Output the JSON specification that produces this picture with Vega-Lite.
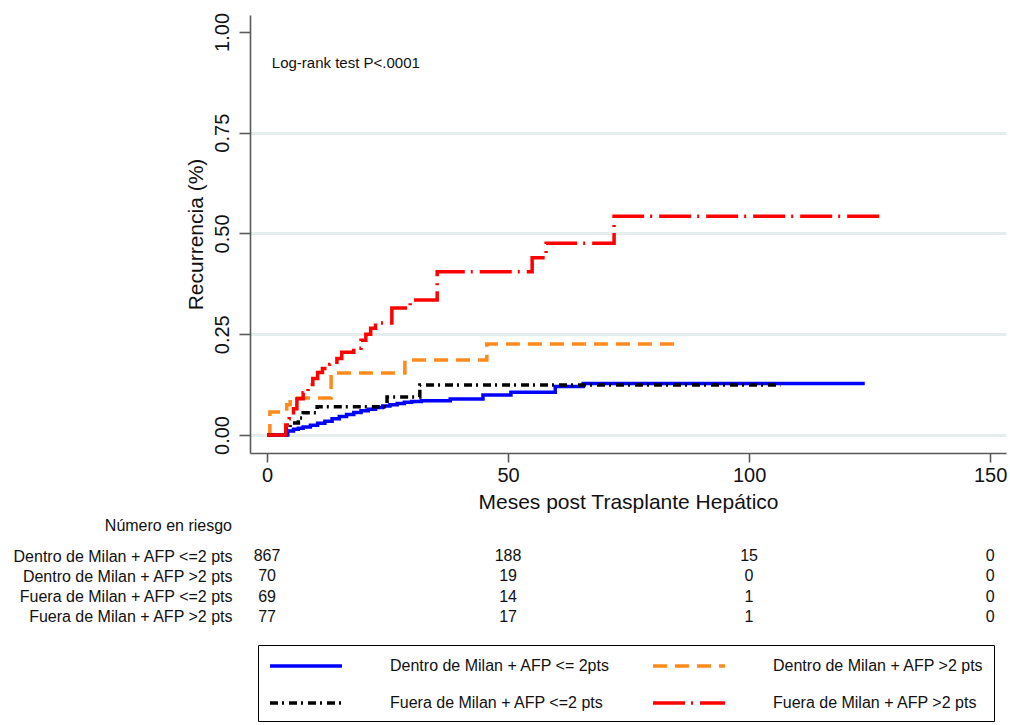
{
  "$schema": "https://vega.github.io/schema/vega-lite/v6.json",
  "autosize": {"type": "none"},
  "padding": {"left": 250, "top": 15, "right": 760, "bottom": 710},
  "background": "white",
  "bounds": "flush",
  "spacing": 93,
  "config": {
    "view": {"stroke": null},
    "font": "Liberation Sans",
    "axis": {"domainColor": "#5a5a5a", "tickColor": "#5a5a5a", "domainWidth": 1.6, "tickWidth": 1.6, "labelColor": "#111111", "titleColor": "#111111", "titleFontWeight": "normal", "labelFont": "Liberation Sans", "titleFont": "Liberation Sans"}
  },
  "vconcat": [
    {
      "width": 756,
      "height": 438,
      "layer": [
        {
          "data": {
            "values": [
              {"grupo": "Dentro de Milan + AFP <= 2pts", "mes": 0, "rec": 0},
              {"grupo": "Dentro de Milan + AFP <= 2pts", "mes": 4.3, "rec": 0.01},
              {"grupo": "Dentro de Milan + AFP <= 2pts", "mes": 5.5, "rec": 0.014},
              {"grupo": "Dentro de Milan + AFP <= 2pts", "mes": 6.5, "rec": 0.017},
              {"grupo": "Dentro de Milan + AFP <= 2pts", "mes": 7.5, "rec": 0.02},
              {"grupo": "Dentro de Milan + AFP <= 2pts", "mes": 9, "rec": 0.024},
              {"grupo": "Dentro de Milan + AFP <= 2pts", "mes": 10.5, "rec": 0.029},
              {"grupo": "Dentro de Milan + AFP <= 2pts", "mes": 12, "rec": 0.034},
              {"grupo": "Dentro de Milan + AFP <= 2pts", "mes": 13.5, "rec": 0.04},
              {"grupo": "Dentro de Milan + AFP <= 2pts", "mes": 15, "rec": 0.046},
              {"grupo": "Dentro de Milan + AFP <= 2pts", "mes": 16.5, "rec": 0.051},
              {"grupo": "Dentro de Milan + AFP <= 2pts", "mes": 18, "rec": 0.056},
              {"grupo": "Dentro de Milan + AFP <= 2pts", "mes": 19.5, "rec": 0.06},
              {"grupo": "Dentro de Milan + AFP <= 2pts", "mes": 21, "rec": 0.064},
              {"grupo": "Dentro de Milan + AFP <= 2pts", "mes": 22.5, "rec": 0.068},
              {"grupo": "Dentro de Milan + AFP <= 2pts", "mes": 24, "rec": 0.072},
              {"grupo": "Dentro de Milan + AFP <= 2pts", "mes": 25.5, "rec": 0.075},
              {"grupo": "Dentro de Milan + AFP <= 2pts", "mes": 27, "rec": 0.078},
              {"grupo": "Dentro de Milan + AFP <= 2pts", "mes": 28.5, "rec": 0.081},
              {"grupo": "Dentro de Milan + AFP <= 2pts", "mes": 30, "rec": 0.083},
              {"grupo": "Dentro de Milan + AFP <= 2pts", "mes": 32, "rec": 0.085},
              {"grupo": "Dentro de Milan + AFP <= 2pts", "mes": 38, "rec": 0.089},
              {"grupo": "Dentro de Milan + AFP <= 2pts", "mes": 44.8, "rec": 0.099},
              {"grupo": "Dentro de Milan + AFP <= 2pts", "mes": 50.6, "rec": 0.106},
              {"grupo": "Dentro de Milan + AFP <= 2pts", "mes": 59.8, "rec": 0.12},
              {"grupo": "Dentro de Milan + AFP <= 2pts", "mes": 65.6, "rec": 0.128},
              {"grupo": "Dentro de Milan + AFP <= 2pts", "mes": 124, "rec": 0.128},
              {"grupo": "Dentro de Milan + AFP >2 pts", "mes": 0, "rec": 0},
              {"grupo": "Dentro de Milan + AFP >2 pts", "mes": 0.6, "rec": 0.057},
              {"grupo": "Dentro de Milan + AFP >2 pts", "mes": 4.1, "rec": 0.075},
              {"grupo": "Dentro de Milan + AFP >2 pts", "mes": 4.8, "rec": 0.092},
              {"grupo": "Dentro de Milan + AFP >2 pts", "mes": 13.3, "rec": 0.154},
              {"grupo": "Dentro de Milan + AFP >2 pts", "mes": 28.6, "rec": 0.186},
              {"grupo": "Dentro de Milan + AFP >2 pts", "mes": 45.6, "rec": 0.226},
              {"grupo": "Dentro de Milan + AFP >2 pts", "mes": 85.7, "rec": 0.226},
              {"grupo": "Fuera de Milan + AFP <=2 pts", "mes": 0, "rec": 0},
              {"grupo": "Fuera de Milan + AFP <=2 pts", "mes": 4, "rec": 0.015},
              {"grupo": "Fuera de Milan + AFP <=2 pts", "mes": 4.8, "rec": 0.03},
              {"grupo": "Fuera de Milan + AFP <=2 pts", "mes": 6.5, "rec": 0.042},
              {"grupo": "Fuera de Milan + AFP <=2 pts", "mes": 7.5, "rec": 0.055},
              {"grupo": "Fuera de Milan + AFP <=2 pts", "mes": 10.4, "rec": 0.07},
              {"grupo": "Fuera de Milan + AFP <=2 pts", "mes": 24.9, "rec": 0.094},
              {"grupo": "Fuera de Milan + AFP <=2 pts", "mes": 31.7, "rec": 0.124},
              {"grupo": "Fuera de Milan + AFP <=2 pts", "mes": 106.5, "rec": 0.124},
              {"grupo": "Fuera de Milan + AFP >2 pts", "mes": 0, "rec": 0},
              {"grupo": "Fuera de Milan + AFP >2 pts", "mes": 3.9, "rec": 0.025},
              {"grupo": "Fuera de Milan + AFP >2 pts", "mes": 4.6, "rec": 0.04},
              {"grupo": "Fuera de Milan + AFP >2 pts", "mes": 5.5, "rec": 0.065},
              {"grupo": "Fuera de Milan + AFP >2 pts", "mes": 6.2, "rec": 0.09},
              {"grupo": "Fuera de Milan + AFP >2 pts", "mes": 7.5, "rec": 0.105},
              {"grupo": "Fuera de Milan + AFP >2 pts", "mes": 8.5, "rec": 0.125},
              {"grupo": "Fuera de Milan + AFP >2 pts", "mes": 9.5, "rec": 0.14},
              {"grupo": "Fuera de Milan + AFP >2 pts", "mes": 10.5, "rec": 0.155},
              {"grupo": "Fuera de Milan + AFP >2 pts", "mes": 11.5, "rec": 0.165},
              {"grupo": "Fuera de Milan + AFP >2 pts", "mes": 13, "rec": 0.175},
              {"grupo": "Fuera de Milan + AFP >2 pts", "mes": 14.5, "rec": 0.19},
              {"grupo": "Fuera de Milan + AFP >2 pts", "mes": 15.5, "rec": 0.205},
              {"grupo": "Fuera de Milan + AFP >2 pts", "mes": 18, "rec": 0.215},
              {"grupo": "Fuera de Milan + AFP >2 pts", "mes": 19.5, "rec": 0.235},
              {"grupo": "Fuera de Milan + AFP >2 pts", "mes": 20.5, "rec": 0.25},
              {"grupo": "Fuera de Milan + AFP >2 pts", "mes": 21.5, "rec": 0.265},
              {"grupo": "Fuera de Milan + AFP >2 pts", "mes": 22.5, "rec": 0.278},
              {"grupo": "Fuera de Milan + AFP >2 pts", "mes": 25.9, "rec": 0.315},
              {"grupo": "Fuera de Milan + AFP >2 pts", "mes": 29.7, "rec": 0.335},
              {"grupo": "Fuera de Milan + AFP >2 pts", "mes": 35.3, "rec": 0.405},
              {"grupo": "Fuera de Milan + AFP >2 pts", "mes": 55, "rec": 0.44},
              {"grupo": "Fuera de Milan + AFP >2 pts", "mes": 57.9, "rec": 0.476},
              {"grupo": "Fuera de Milan + AFP >2 pts", "mes": 72, "rec": 0.543},
              {"grupo": "Fuera de Milan + AFP >2 pts", "mes": 127.8, "rec": 0.543}
            ]
          },
          "mark": {"type": "line", "interpolate": "step-after", "strokeWidth": 3.5, "strokeCap": "butt"},
          "encoding": {
            "x": {
              "field": "mes", "type": "quantitative",
              "scale": {"domain": [-3.53, 153.3], "nice": false, "zero": false},
              "axis": {"values": [0, 50, 100, 150], "grid": false, "tickSize": 9, "labelFontSize": 20, "labelPadding": 3, "title": "Meses post Trasplante Hepático", "titleFontSize": 21, "titlePadding": 6}
            },
            "y": {
              "field": "rec", "type": "quantitative",
              "scale": {"domain": [-0.0447, 1.042], "nice": false, "zero": false},
              "axis": {
                "values": [0, 0.25, 0.5, 0.75, 1], "format": ".2f", "tickSize": 11, "labelFontSize": 20, "labelAngle": -90, "labelPadding": 7,
                "grid": true, "gridWidth": 3,
                "gridColor": {"condition": {"test": "datum.value == 1", "value": "transparent"}, "value": "#e6eded"},
                "title": "Recurrencia (%)", "titleFontSize": 21, "titlePadding": 6
              }
            },
            "color": {
              "field": "grupo", "type": "nominal",
              "scale": {
                "domain": ["Dentro de Milan + AFP <= 2pts", "Dentro de Milan + AFP >2 pts", "Fuera de Milan + AFP <=2 pts", "Fuera de Milan + AFP >2 pts"],
                "range": ["#0000ff", "#ff8a1c", "#000000", "#ff0000"]
              },
              "legend": {
                "title": null, "orient": "none", "legendX": 8, "legendY": 630, "columns": 2, "direction": "horizontal",
                "symbolType": "M-1,0H7", "symbolSize": 324, "symbolStrokeWidth": 3.5, "symbolFillColor": "transparent",
                "labelFontSize": 16, "labelColor": "#111111", "labelOffset": 100, "columnPadding": 35, "rowPadding": 18,
                "strokeColor": "#000000", "padding": 10, "labelLimit": 400
              }
            },
            "strokeDash": {
              "field": "grupo", "type": "nominal",
              "scale": {
                "domain": ["Dentro de Milan + AFP <= 2pts", "Dentro de Milan + AFP >2 pts", "Fuera de Milan + AFP <=2 pts", "Fuera de Milan + AFP >2 pts"],
                "range": [[1, 0], [14, 8], [8, 4, 2, 5], [32, 6, 2, 7]]
              },
              "legend": {"title": null}
            }
          }
        },
        {
          "data": {"values": [{"nota": "Log-rank test P<.0001"}]},
          "mark": {"type": "text", "align": "left", "baseline": "middle", "fontSize": 15, "color": "#111111"},
          "encoding": {
            "x": {"datum": 1},
            "y": {"datum": 0.923},
            "text": {"field": "nota"}
          }
        }
      ]
    },
    {
      "width": 756,
      "height": 81,
      "title": {"text": "Número en riesgo", "anchor": "start", "frame": "group", "align": "right", "dx": -18, "offset": 12, "fontSize": 16, "fontWeight": "normal", "color": "#111111"},
      "data": {
        "values": [
          {"grupo": "Dentro de Milan + AFP <=2 pts", "mes": 0, "n": 867},
          {"grupo": "Dentro de Milan + AFP <=2 pts", "mes": 50, "n": 188},
          {"grupo": "Dentro de Milan + AFP <=2 pts", "mes": 100, "n": 15},
          {"grupo": "Dentro de Milan + AFP <=2 pts", "mes": 150, "n": 0},
          {"grupo": "Dentro de Milan + AFP >2 pts", "mes": 0, "n": 70},
          {"grupo": "Dentro de Milan + AFP >2 pts", "mes": 50, "n": 19},
          {"grupo": "Dentro de Milan + AFP >2 pts", "mes": 100, "n": 0},
          {"grupo": "Dentro de Milan + AFP >2 pts", "mes": 150, "n": 0},
          {"grupo": "Fuera de Milan + AFP <=2 pts", "mes": 0, "n": 69},
          {"grupo": "Fuera de Milan + AFP <=2 pts", "mes": 50, "n": 14},
          {"grupo": "Fuera de Milan + AFP <=2 pts", "mes": 100, "n": 1},
          {"grupo": "Fuera de Milan + AFP <=2 pts", "mes": 150, "n": 0},
          {"grupo": "Fuera de Milan + AFP >2 pts", "mes": 0, "n": 77},
          {"grupo": "Fuera de Milan + AFP >2 pts", "mes": 50, "n": 17},
          {"grupo": "Fuera de Milan + AFP >2 pts", "mes": 100, "n": 1},
          {"grupo": "Fuera de Milan + AFP >2 pts", "mes": 150, "n": 0}
        ]
      },
      "mark": {"type": "text", "align": "center", "baseline": "middle", "fontSize": 16, "color": "#111111"},
      "encoding": {
        "x": {"field": "mes", "type": "quantitative", "scale": {"domain": [-3.53, 153.3], "nice": false, "zero": false}, "axis": null},
        "y": {
          "field": "grupo", "type": "nominal",
          "sort": ["Dentro de Milan + AFP <=2 pts", "Dentro de Milan + AFP >2 pts", "Fuera de Milan + AFP <=2 pts", "Fuera de Milan + AFP >2 pts"],
          "axis": {"title": null, "domain": false, "ticks": false, "labelFontSize": 16, "labelPadding": 18, "labelColor": "#111111", "labelLimit": 400}
        },
        "text": {"field": "n", "type": "quantitative"}
      }
    }
  ]
}
